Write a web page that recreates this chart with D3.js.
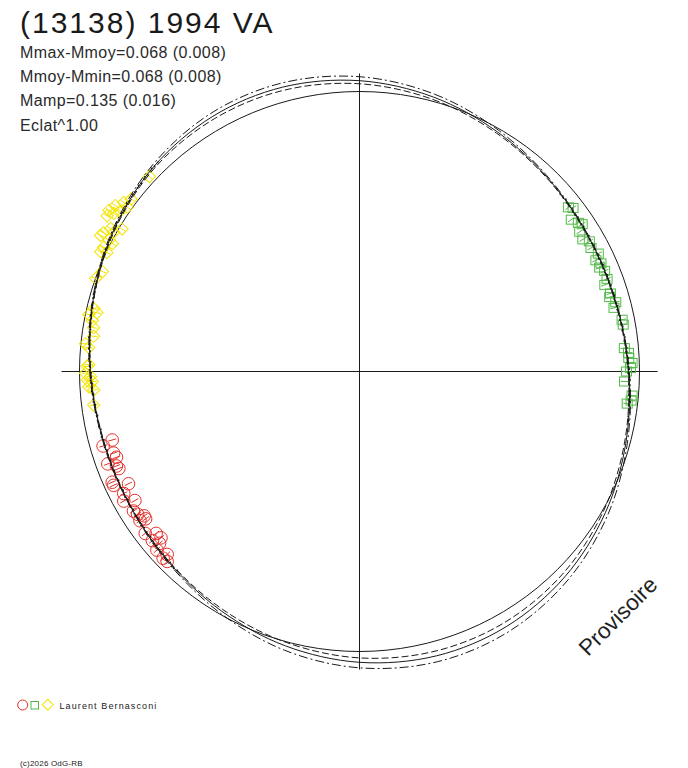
<!DOCTYPE html>
<html>
<head>
<meta charset="utf-8">
<script src="https://d3js.org/d3.v7.min.js"></script>
<style>
body { margin: 0; background: #fff; }
svg { display: block; font-family: "Liberation Sans", Arial, sans-serif; }
</style>
</head>
<body>
<div id="chart"></div>
<script>
// Texts
var titleText = "(13138) 1994 VA";
var infoLines = ["Mmax-Mmoy=0.068 (0.008)", "Mmoy-Mmin=0.068 (0.008)", "Mamp=0.135 (0.016)", "Eclat^1.00"];
var observerName = "Laurent Bernasconi";
var copyrightText = "(c)2026 OdG-RB";
var watermarkText = "Provisoire";

// Sessions: rotational phase and magnitude relative to the mean
var redPhase = [.707, .705, .699, .696, .694, .691, .689, .683, .681, .678, .674, .667, .670, .662,
				.659, .656, .654, .655, .647, .643, .641, .639, .637, .635, .629, .629, .626];
var redMag = [.106, .059, .095, .101, .054, .087, .093, .041, .041, .105, .066, .095, .050, .065,
				.073, .094, .092, .066, .052, .091, .057, .095, .074, .045, .066, .041, .044];

var greenPhase = [.144, .146, .151, .155, .157, .160, .165, .168, .172, .177, .180, .183, .185, .188,
				.193, .196, .202, .204, .208, .211, .219, .222, .236, .239, .242, .245, .248, .250,
				.256, .264, .267, .269];
var greenMag = [.065, .050, .088, .070, .059, .087, .093, .072, .080, .062, .085, .070, .083, .068,
				.071, .090, .078, .086, .066, .080, .056, .055, .064, .047, .047, .033, .041, .059,
				.067, .029, .031, .047];

var yellowPhase = [.869, .853, .849, .845, .844, .841, .841, .838, .848, .836, .833, .829, .832, .827,
				.827, .826, .822, .820, .819, .809, .804, .787, .785, .783, .780, .776, .771, .766,
				.764, .754, .753, .749, .747, .745, .744, .741, .739, .730];
var yellowMag = [-.030, -.028, -.046, -.069, -.037, -.081, -.055, -.075, -.020, .014, -.032, -.051, -.011, -.057,
				-.013, .008, -.020, .004, -.024, .019, .001, .032, .050, .015, .036, .048, .054, .021,
				.037, .042, .035, .027, .050, .035, .057, .040, .062, .055];

var errMag = 0.018;

// Fitted curve and its two envelopes, read every 15 degrees of phase
var fitPhase = [0, .042, .083, .125, .167, .208, .250, .292, .333, .375, .417, .458,
				.500, .542, .583, .625, .667, .708, .750, .792, .833, .875, .917, .958];
var fitMag = [-.049, -.019, .016, .047, .065, .066, .049, .019, -.016, -.047, -.065, -.066,
				-.049, -.019, .016, .047, .065, .066, .049, .019, -.016, -.047, -.065, -.066];
var fitHigh = [-.067, -.033, .007, .043, .063, .064, .046, .012, -.030, -.067, -.090, -.093,
				-.074, -.039, .005, .043, .063, .064, .046, .016, -.021, -.056, -.081, -.085];
var fitLow = [-.035, -.008, .023, .050, .067, .068, .051, .025, -.005, -.031, -.045, -.044,
				-.029, -.003, .025, .050, .067, .068, .051, .021, -.012, -.040, -.052, -.051];

var redColor = "#e3312b";
var greenColor = "#52b947";
var yellowColor = "#f4e400";
var ink = "#1a1a1a";

// Scales
var angleScale = d3.scaleLinear()
					.domain([0, 1])
					.range([0, 2 * Math.PI]);

var radiusScale = d3.scaleLinear()
					.domain([0, -0.068])
					.range([280, 295]);

var axisLength = 298;

var svg = d3.select("#chart").append("svg")
				.attr("width", 688)
				.attr("height", 768);

// Header
svg.append("text")
	.attr("x", 20)
	.attr("y", 33)
	.style("font-size", "30px")
	.style("letter-spacing", "2px")
	.style("fill", ink)
	.text(titleText);

svg.selectAll("text.info")
	.data(infoLines)
	.enter().append("text")
		.attr("class", "info")
		.attr("x", 20)
		.attr("y", function(d, i) {
			return 58 + i * 24.2;
		})
		.style("font-size", "16px")
		.style("letter-spacing", "0.4px")
		.style("fill", "#2a2a2a")
		.text(function(d) {
			return d;
		});

// Polar plot
var plot = svg.append("g")
				.attr("transform", "translate(359.5, 371.5)");

plot.append("circle")
	.attr("r", radiusScale(0))
	.style("fill", "none")
	.style("stroke", ink)
	.style("stroke-width", 1);

plot.append("line")
	.attr("x1", -axisLength)
	.attr("x2", axisLength)
	.style("stroke", ink);

plot.append("line")
	.attr("y1", -axisLength)
	.attr("y2", axisLength)
	.style("stroke", ink);

function point(phase, mag) {
	return d3.pointRadial(angleScale(phase), radiusScale(mag));
}

function drawErrors(phases, mags, color) {
	plot.append("g")
		.selectAll("line")
		.data(phases)
		.enter().append("line")
			.attr("x1", function(d, i) { return point(d, mags[i] + errMag)[0]; })
			.attr("y1", function(d, i) { return point(d, mags[i] + errMag)[1]; })
			.attr("x2", function(d, i) { return point(d, mags[i] - errMag)[0]; })
			.attr("y2", function(d, i) { return point(d, mags[i] - errMag)[1]; })
			.style("stroke", color)
			.style("stroke-width", 1);
}

// Red session: circles
drawErrors(redPhase, redMag, redColor);
plot.append("g")
	.selectAll("circle")
	.data(redPhase)
	.enter().append("circle")
		.attr("cx", function(d, i) { return point(d, redMag[i])[0]; })
		.attr("cy", function(d, i) { return point(d, redMag[i])[1]; })
		.attr("r", 6.3)
		.style("fill", "none")
		.style("stroke", redColor);

// Green session: squares
drawErrors(greenPhase, greenMag, greenColor);
plot.append("g")
	.selectAll("rect")
	.data(greenPhase)
	.enter().append("rect")
		.attr("x", function(d, i) { return point(d, greenMag[i])[0] - 5; })
		.attr("y", function(d, i) { return point(d, greenMag[i])[1] - 4.5; })
		.attr("width", 10)
		.attr("height", 9)
		.style("fill", "none")
		.style("stroke", greenColor);

// Yellow session: diamonds
var diamond = d3.symbol().type(d3.symbolSquare).size(76);
drawErrors(yellowPhase, yellowMag, yellowColor);
plot.append("g")
	.selectAll("path")
	.data(yellowPhase)
	.enter().append("path")
		.attr("d", diamond)
		.attr("transform", function(d, i) {
			var p = point(d, yellowMag[i]);
			return "translate(" + p[0] + "," + p[1] + ") rotate(45)";
		})
		.style("fill", "none")
		.style("stroke", yellowColor);

// Fit curves
var fitLine = d3.lineRadial()
				.angle(function(d) { return angleScale(d[0]); })
				.radius(function(d) { return radiusScale(d[1]); })
				.curve(d3.curveCatmullRomClosed);

var curves = [
	{ mags: fitHigh, dash: "9,3,2,3" },
	{ mags: fitLow, dash: "7,3" },
	{ mags: fitMag, dash: null }
];

var fitPaths = plot.selectAll("path.fit")
	.data(curves)
	.enter().append("path")
		.attr("class", "fit")
		.attr("d", function(c) {
			return fitLine(fitPhase.map(function(p, i) { return [p, c.mags[i]]; }));
		})
		.style("fill", "none")
		.style("stroke", ink)
		.style("stroke-width", 1)
		.style("stroke-dasharray", function(c) { return c.dash; });

// Dotted trace of the fit where observations cover the phase
var covered = [d3.extent(redPhase), d3.extent(greenPhase), d3.extent(yellowPhase)];
var fitNode = fitPaths.nodes()[2];
var fitLength = fitNode.getTotalLength();
var trace = [];
for (var s = 0; s < fitLength; s += 3.6) {
	var p = fitNode.getPointAtLength(s);
	var ph = Math.atan2(p.x, -p.y) / (2 * Math.PI);
	if (ph < 0) ph += 1;
	var inside = covered.some(function(c) { return ph >= c[0] - 0.01 && ph <= c[1] + 0.01; });
	if (inside) trace.push(p);
}

plot.append("g")
	.selectAll("rect")
	.data(trace)
	.enter().append("rect")
		.attr("x", function(d, i) { return d.x - 0.8 + (i % 3 - 1) * 0.6; })
		.attr("y", function(d, i) { return d.y - 0.8 + ((i + 1) % 3 - 1) * 0.6; })
		.attr("width", 1.6)
		.attr("height", 1.6)
		.style("fill", ink);

// Watermark
svg.append("text")
	.attr("transform", "translate(588, 657) rotate(-45)")
	.style("font-size", "22.5px")
	.style("fill", "#222")
	.text(watermarkText);

// Legend
var legend = svg.append("g");

legend.append("circle")
	.attr("cx", 22.7)
	.attr("cy", 705)
	.attr("r", 5)
	.style("fill", "none")
	.style("stroke", redColor);

legend.append("rect")
	.attr("x", 31)
	.attr("y", 701.5)
	.attr("width", 7.5)
	.attr("height", 7.5)
	.style("fill", "none")
	.style("stroke", greenColor);

legend.append("path")
	.attr("d", d3.symbol().type(d3.symbolSquare).size(60))
	.attr("transform", "translate(47.8, 704.8) rotate(45)")
	.style("fill", "none")
	.style("stroke", yellowColor);

legend.append("text")
	.attr("x", 59.5)
	.attr("y", 709)
	.style("font-size", "9px")
	.style("letter-spacing", "1.1px")
	.style("fill", ink)
	.text(observerName);

svg.append("text")
	.attr("x", 20)
	.attr("y", 766)
	.style("font-size", "8px")
	.style("letter-spacing", "0.2px")
	.style("fill", ink)
	.text(copyrightText);
</script>
</body>
</html>
